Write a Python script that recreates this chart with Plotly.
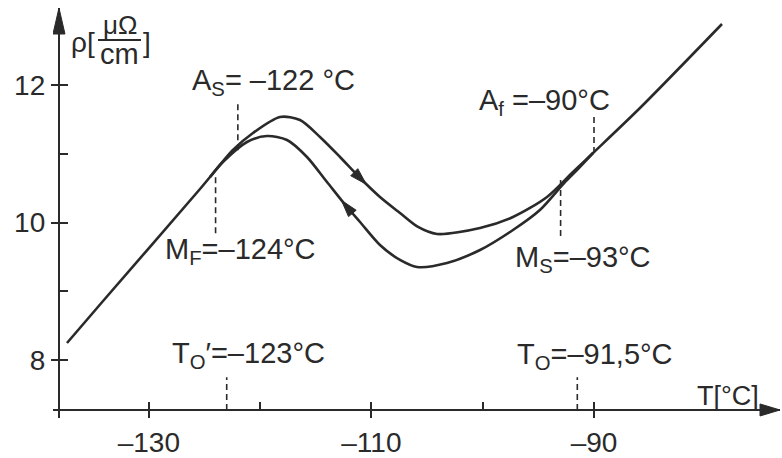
import numpy as np
import plotly.graph_objects as go

# ---------------- data ----------------
# heating run (upper branch), T in degC, rho in micro-ohm*cm
heat_T = [-137.35, -134.11, -125.40, -124.50, -122.44, -120.64, -118.21, -116.41,
          -114.62, -112.82, -111.02, -109.23, -107.43, -105.81, -104.11, -100.24,
          -97.28, -94.22, -91.89, -90.09, -85.87, -78.50]
heat_rho = [8.247, 8.858, 10.487, 10.662, 11.055, 11.302, 11.535, 11.491,
            11.244, 10.953, 10.647, 10.371, 10.138, 9.935, 9.833, 9.920,
            10.080, 10.371, 10.735, 11.011, 11.665, 12.887]
# cooling run (lower branch)
cool_T = [-90.09, -91.53, -92.61, -94.86, -97.28, -100.24, -103.21, -105.90,
          -107.43, -109.23, -111.02, -112.19, -113.99, -115.79, -117.58,
          -119.38, -121.18, -123.34, -124.50]
cool_rho = [11.011, 10.764, 10.589, 10.182, 9.891, 9.600, 9.411, 9.353,
            9.455, 9.673, 10.007, 10.225, 10.589, 10.953, 11.200,
            11.258, 11.171, 10.880, 10.662]

x_major = [-130, -110, -90]
x_major_text = ["–130", "–110", "–90"]
x_all_ticks = [-130, -120, -110, -100, -90]
y_major = [8, 10, 12]
y_major_text = ["8", "10", "12"]
y_all_ticks = [8, 9, 10, 11, 12]

# characteristic temperatures
mark_T = [-122, -124, -90, -93, -123, -91.5]
mark_text = ["A<sub>S</sub>= –122 °C", "M<sub>F</sub>=–124°C", "A<sub>f</sub> =–90°C",
             "M<sub>S</sub>=–93°C", "T<sub>O</sub>′=–123°C", "T<sub>O</sub>=–91,5°C"]

# ---------------- layout constants ----------------
W, H = 782, 458
PL, PR, PT, PB = 53, 780, 8, 418          # plot area in pixels
x_range = [-138.607, -73.289]
y_range = [7.1564, 13.12]
x_axis_rho = 7.273        # where the T axis sits
y_axis_T = -138.07        # where the rho axis sits
C = "#2a2a2a"
FONT = "Liberation Sans"

pxT = (PR - PL) / (x_range[1] - x_range[0])
pxR = (PB - PT) / (y_range[1] - y_range[0])
xpos_frac = (x_axis_rho - y_range[0]) / (y_range[1] - y_range[0])
ypos_frac = (y_axis_T - x_range[0]) / (x_range[1] - x_range[0])


def paper(px, py):
    return (px - PL) / (PR - PL), (PB - py) / (PB - PT)


def head(Tc, Rc, dT, dR, L=17, Wd=10):
    dx, dy = dT * pxT, dR * pxR
    n = np.hypot(dx, dy)
    ux, uy = dx / n, dy / n
    vx, vy = -uy, ux
    tip = (ux * L / 2, uy * L / 2)
    b1 = (-ux * L / 2 + vx * Wd / 2, -uy * L / 2 + vy * Wd / 2)
    b2 = (-ux * L / 2 - vx * Wd / 2, -uy * L / 2 - vy * Wd / 2)
    path = (f"M{tip[0]:.2f},{tip[1]:.2f} L{b1[0]:.2f},{b1[1]:.2f} "
            f"L{b2[0]:.2f},{b2[1]:.2f} Z")
    return dict(type="path", xref="x", yref="y", xsizemode="pixel", ysizemode="pixel",
                xanchor=Tc, yanchor=Rc, path=path, fillcolor=C,
                line=dict(color=C, width=1), layer="above")


fig = go.Figure()
fig.add_trace(go.Scatter(x=heat_T, y=heat_rho, mode="lines",
                         line=dict(color=C, width=2.6, shape="spline", smoothing=0.8),
                         hoverinfo="skip", showlegend=False))
fig.add_trace(go.Scatter(x=cool_T, y=cool_rho, mode="lines",
                         line=dict(color=C, width=2.6, shape="spline", smoothing=0.8),
                         hoverinfo="skip", showlegend=False))
# dummy trace to show the overlay tick axes
fig.add_trace(go.Scatter(x=[-100], y=[10], xaxis="x2", yaxis="y2", mode="markers",
                         marker=dict(opacity=0), hoverinfo="skip", showlegend=False))

shapes = []
# dashed marker lines
mark_y = [(11.05, 11.75), (10.66, 9.83), (11.01, 11.56), (10.62, 9.79),
          (x_axis_rho, 7.75), (x_axis_rho, 7.75)]
for t, (ya, yb) in zip(mark_T, mark_y):
    shapes.append(dict(type="line", xref="x", yref="y", x0=t, x1=t, y0=ya, y1=yb,
                       line=dict(color=C, width=1.6, dash="6px,4px"), layer="above"))

# direction arrows on the curves
ht = -111.0
hr = np.interp(ht, heat_T, heat_rho)
hd = np.interp(ht + 0.5, heat_T, heat_rho) - np.interp(ht - 0.5, heat_T, heat_rho)
shapes.append(head(ht, hr, 1.0, hd))
cT, cR = cool_T[::-1], cool_rho[::-1]
ct = -112.2
cr = np.interp(ct, cT, cR)
cd = np.interp(ct - 0.5, cT, cR) - np.interp(ct + 0.5, cT, cR)
shapes.append(head(ct, cr, -1.0, cd))

# axis arrowheads
shapes.append(dict(type="path", xref="x", yref="y", xsizemode="pixel", ysizemode="pixel",
                   xanchor=x_range[1], yanchor=x_axis_rho, path="M0,0 L-20,6 L-20,-6 Z",
                   fillcolor=C, line=dict(color=C, width=1), layer="above"))
shapes.append(dict(type="path", xref="x", yref="y", xsizemode="pixel", ysizemode="pixel",
                   xanchor=y_axis_T, yanchor=y_range[1], path="M0,0 L-6,-26 L6,-26 Z",
                   fillcolor=C, line=dict(color=C, width=1), layer="above"))

# fraction bar of the unit
fx0, fy = paper(98, 40)
fx1, _ = paper(141, 40)
shapes.append(dict(type="line", xref="paper", yref="paper", x0=fx0, x1=fx1, y0=fy, y1=fy,
                   line=dict(color=C, width=2)))

annotations = []
label_px = [(190, 82), (163, 251), (477, 102), (513, 259), (170, 355), (515, 356)]
for txt, (px, py) in zip(mark_text, label_px):
    ax_, ay_ = paper(px, py)
    annotations.append(dict(x=ax_, y=ay_, xref="paper", yref="paper", text=txt,
                            xanchor="left", yanchor="middle", showarrow=False,
                            font=dict(family=FONT, size=29, color=C)))

def add_text(txt, px, py, size, xanchor="left"):
    ax_, ay_ = paper(px, py)
    annotations.append(dict(x=ax_, y=ay_, xref="paper", yref="paper", text=txt,
                            xanchor=xanchor, yanchor="middle", showarrow=False,
                            font=dict(family=FONT, size=size, color=C)))

add_text("T[°C]", 695, 396, 27)
add_text("ρ[", 69, 43, 28)
add_text("μΩ", 119.5, 25, 26, "center")
add_text("cm", 119.5, 54, 29, "center")
add_text("]", 141, 43, 28)

axis_common = dict(showline=True, linecolor=C, linewidth=2.2, showgrid=False,
                   zeroline=False, automargin=False, anchor="free")
fig.update_layout(
    width=W, height=H, template="none",
    margin=dict(l=PL, r=W - PR, t=PT, b=H - PB, pad=0),
    paper_bgcolor="white", plot_bgcolor="white",
    xaxis=dict(range=x_range, position=xpos_frac, tickvals=x_major, ticktext=x_major_text,
               ticks="outside", ticklen=7, tickwidth=2, tickcolor=C,
               tickfont=dict(family=FONT, size=28, color=C), **axis_common),
    yaxis=dict(range=y_range, position=ypos_frac, tickvals=y_major, ticktext=y_major_text,
               ticks="outside", ticklen=7, tickwidth=2, tickcolor=C,
               tickfont=dict(family=FONT, size=28, color=C), **axis_common),
    xaxis2=dict(range=x_range, overlaying="x", anchor="free", position=xpos_frac,
                tickvals=x_all_ticks, ticks="inside", ticklen=8, tickwidth=2, tickcolor=C,
                showticklabels=False, showline=False, showgrid=False, zeroline=False,
                automargin=False),
    yaxis2=dict(range=y_range, overlaying="y", anchor="free", position=ypos_frac,
                tickvals=y_all_ticks, ticks="inside", ticklen=8, tickwidth=2, tickcolor=C,
                showticklabels=False, showline=False, showgrid=False, zeroline=False,
                automargin=False),
    shapes=shapes, annotations=annotations, showlegend=False,
)

fig.write_html("out.html", config={"displayModeBar": False},
               post_script="document.body.style.margin='0px';document.body.style.overflow='hidden';")
